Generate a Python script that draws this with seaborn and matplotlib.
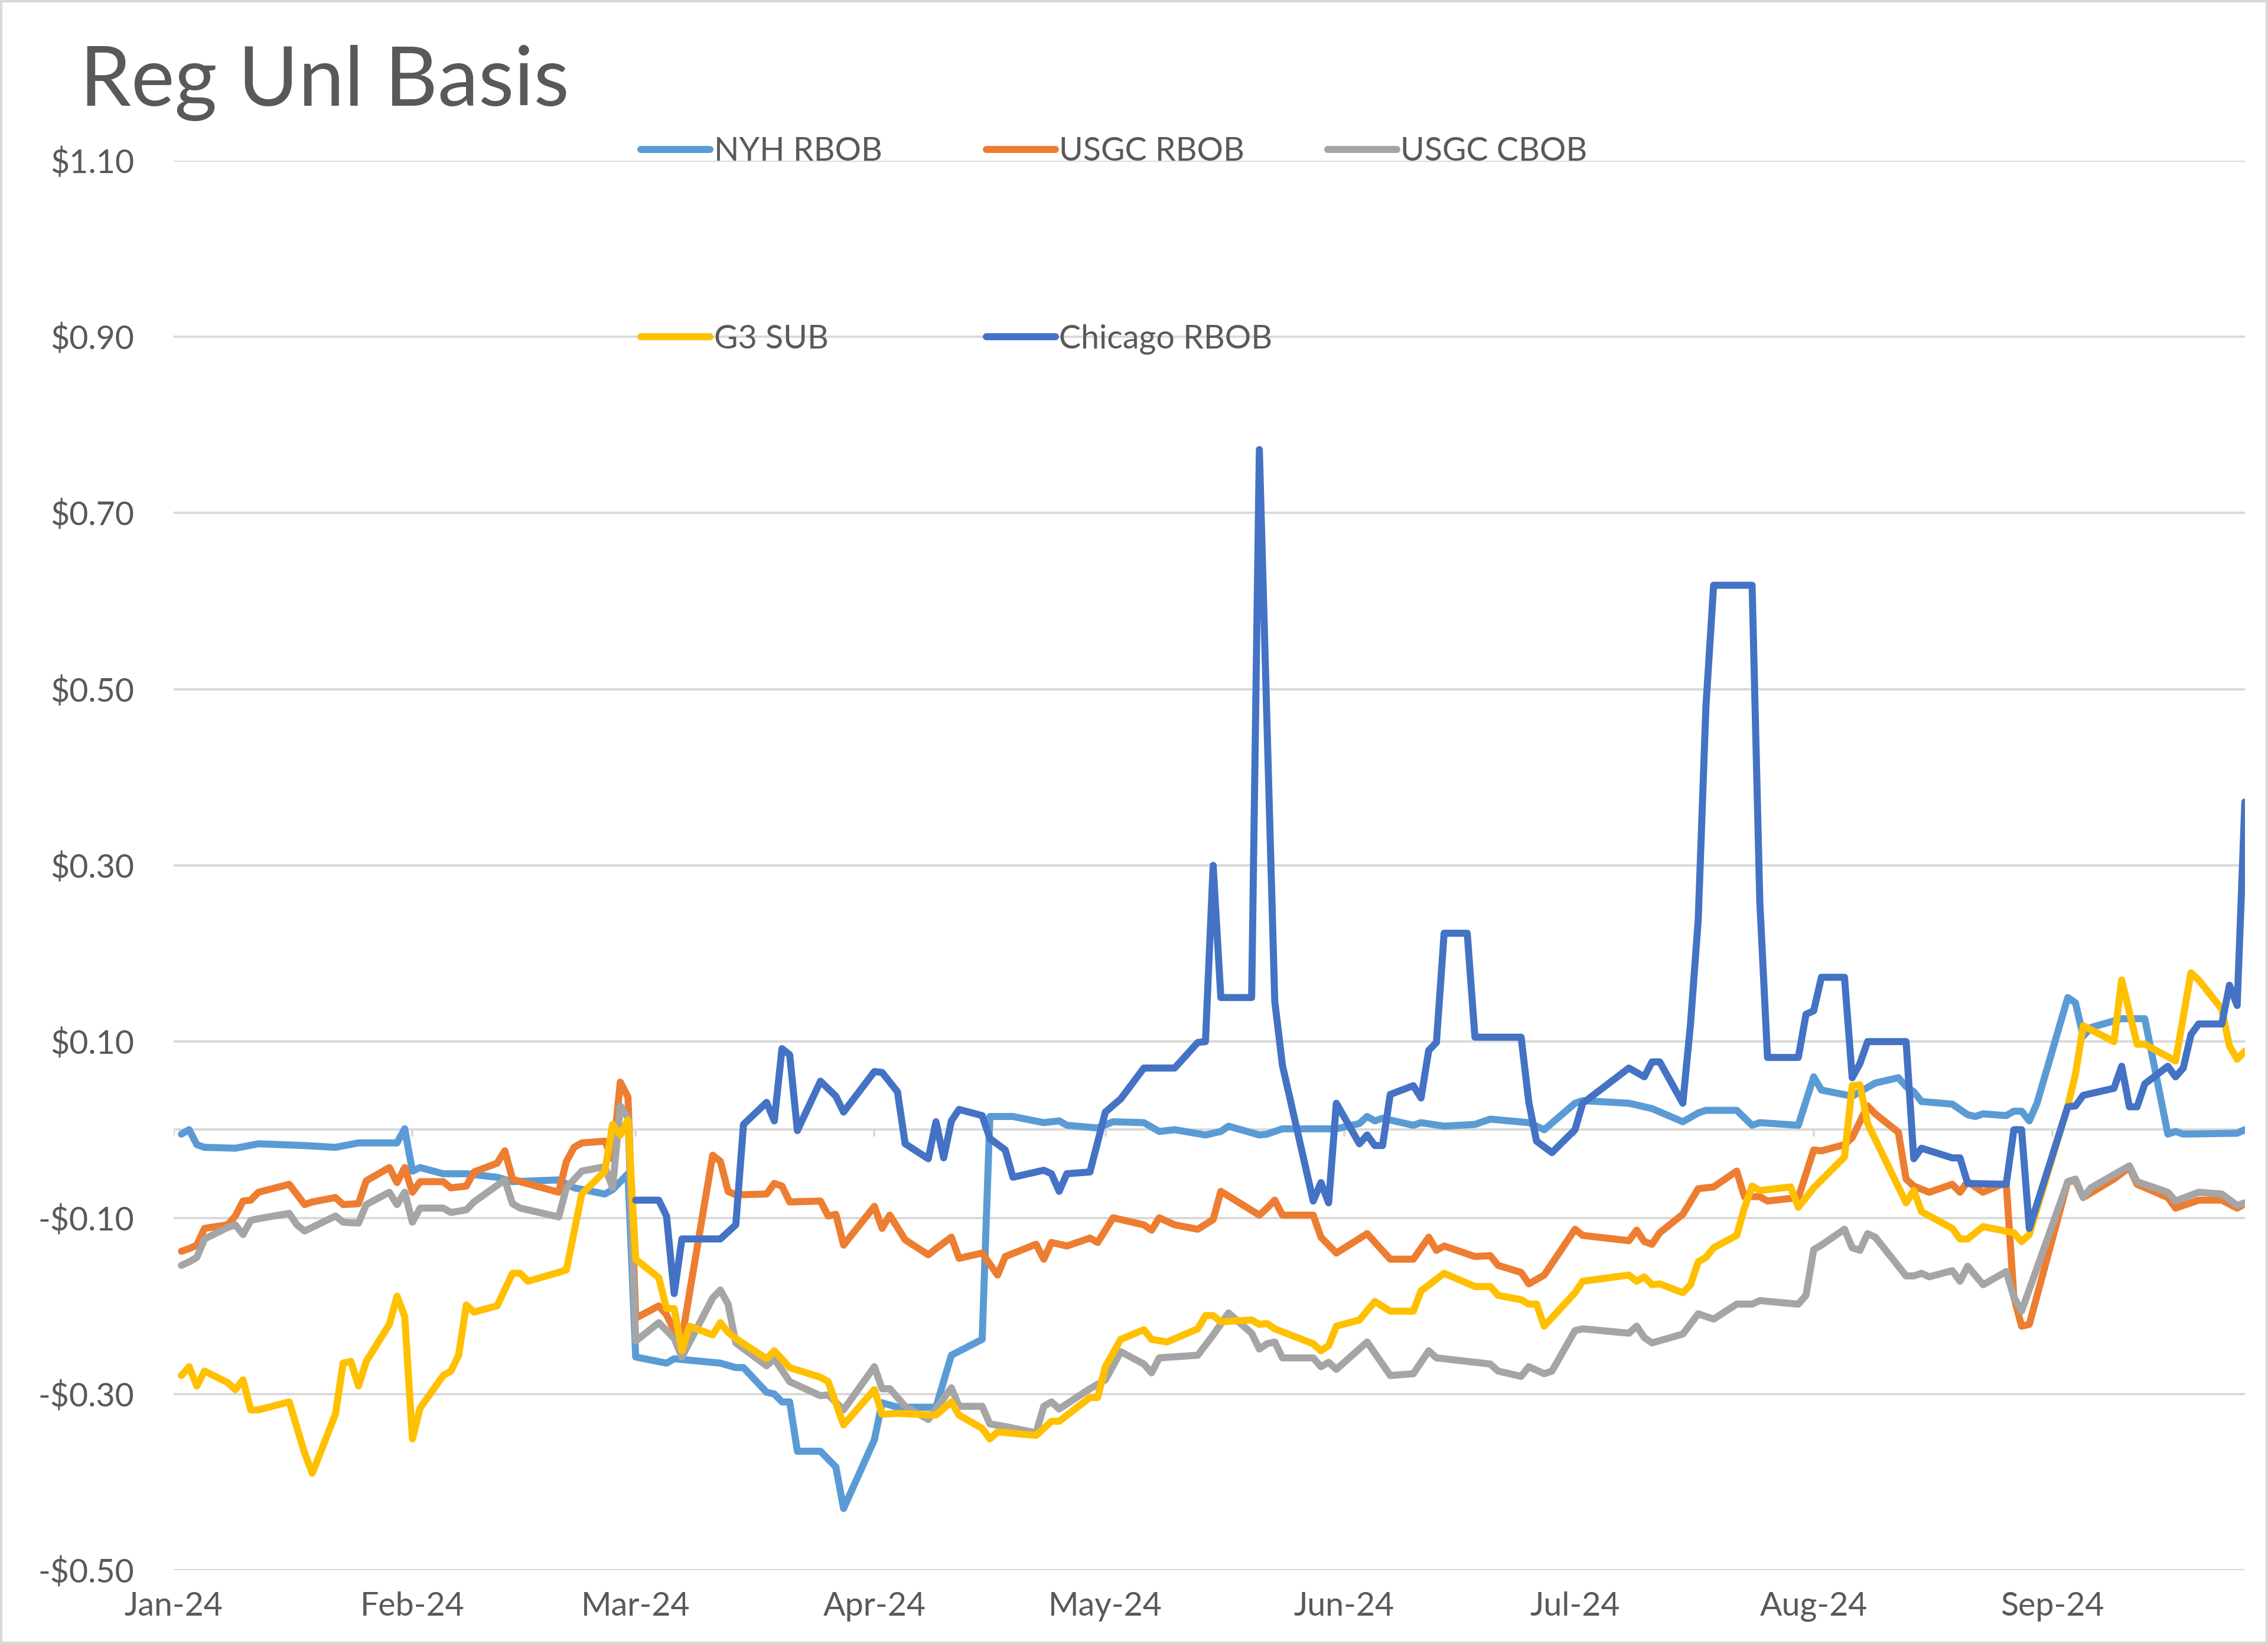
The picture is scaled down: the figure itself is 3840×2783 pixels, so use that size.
import pandas as pd
import seaborn as sns
import matplotlib.pyplot as plt
import matplotlib.dates as mdates
from matplotlib.lines import Line2D
from matplotlib.patches import Rectangle
from matplotlib.ticker import FuncFormatter

# series names / colours (Excel office palette)
series_names = ["NYH RBOB", "USGC RBOB", "USGC CBOB", "G3 SUB", "Chicago RBOB"]
series_colors = ["#5B9BD5", "#ED7D31", "#A5A5A5", "#FFC000", "#4472C4"]

# values, (MM-DD, $/gal)
nyh_rbob = [
    ("01-02", -0.005), ("01-03", 0.000), ("01-04", -0.017), ("01-05", -0.020), ("01-09", -0.021),
    ("01-12", -0.016), ("01-18", -0.018), ("01-22", -0.020), ("01-25", -0.015), ("01-30", -0.015),
    ("01-31", 0.001), ("02-01", -0.047), ("02-02", -0.043), ("02-05", -0.050), ("02-08", -0.050),
    ("02-12", -0.054), ("02-14", -0.059), ("02-20", -0.057), ("02-22", -0.066), ("02-26", -0.073),
    ("02-27", -0.068), ("02-29", -0.050), ("03-01", -0.258), ("03-05", -0.265), ("03-06", -0.260),
    ("03-12", -0.265), ("03-14", -0.270), ("03-15", -0.270), ("03-18", -0.298), ("03-19", -0.300),
    ("03-20", -0.309), ("03-21", -0.309), ("03-22", -0.365), ("03-25", -0.365), ("03-27", -0.383),
    ("03-28", -0.430), ("04-01", -0.352), ("04-02", -0.310), ("04-04", -0.315), ("04-09", -0.315),
    ("04-11", -0.256), ("04-15", -0.238), ("04-16", 0.015), ("04-19", 0.015), ("04-23", 0.008),
    ("04-25", 0.010), ("04-26", 0.005), ("04-30", 0.002), ("05-02", 0.009), ("05-06", 0.008),
    ("05-08", -0.002), ("05-10", 0.000), ("05-14", -0.006), ("05-16", -0.002), ("05-17", 0.004),
    ("05-21", -0.006), ("05-22", -0.005), ("05-24", 0.001), ("05-31", 0.001), ("06-03", 0.007),
    ("06-04", 0.015), ("06-05", 0.010), ("06-06", 0.013), ("06-10", 0.005), ("06-11", 0.008),
    ("06-14", 0.004), ("06-18", 0.006), ("06-20", 0.012), ("06-25", 0.008), ("06-27", 0.000),
    ("07-01", 0.030), ("07-02", 0.033), ("07-08", 0.030), ("07-11", 0.024), ("07-15", 0.009),
    ("07-17", 0.019), ("07-18", 0.022), ("07-22", 0.022), ("07-24", 0.005), ("07-25", 0.008),
    ("07-30", 0.005), ("08-01", 0.060), ("08-02", 0.045), ("08-06", 0.038), ("08-07", 0.043),
    ("08-09", 0.053), ("08-12", 0.059), ("08-13", 0.049), ("08-14", 0.043), ("08-15", 0.032),
    ("08-19", 0.029), ("08-21", 0.017), ("08-22", 0.015), ("08-23", 0.018), ("08-26", 0.016),
    ("08-27", 0.021), ("08-28", 0.021), ("08-29", 0.010), ("08-30", 0.030), ("09-03", 0.150),
    ("09-04", 0.144), ("09-05", 0.106), ("09-06", 0.116), ("09-10", 0.126), ("09-13", 0.126),
    ("09-16", -0.005), ("09-17", -0.002), ("09-18", -0.005), ("09-25", -0.004), ("09-26", 0.000),
]

usgc_rbob = [
    ("01-02", -0.138), ("01-03", -0.135), ("01-04", -0.131), ("01-05", -0.112), ("01-08", -0.108),
    ("01-09", -0.098), ("01-10", -0.081), ("01-11", -0.080), ("01-12", -0.071), ("01-16", -0.062),
    ("01-18", -0.085), ("01-19", -0.082), ("01-22", -0.077), ("01-23", -0.085), ("01-25", -0.084),
    ("01-26", -0.058), ("01-29", -0.043), ("01-30", -0.060), ("01-31", -0.043), ("02-01", -0.071),
    ("02-02", -0.059), ("02-05", -0.059), ("02-06", -0.066), ("02-08", -0.064), ("02-09", -0.048),
    ("02-12", -0.038), ("02-13", -0.024), ("02-14", -0.056), ("02-15", -0.059), ("02-20", -0.071),
    ("02-21", -0.036), ("02-22", -0.020), ("02-23", -0.015), ("02-26", -0.013), ("02-27", -0.033),
    ("02-28", 0.054), ("02-29", 0.037), ("03-01", -0.214), ("03-04", -0.200), ("03-05", -0.210),
    ("03-06", -0.228), ("03-07", -0.237), ("03-11", -0.029), ("03-12", -0.036), ("03-13", -0.070),
    ("03-14", -0.074), ("03-18", -0.073), ("03-19", -0.061), ("03-20", -0.064), ("03-21", -0.082),
    ("03-25", -0.081), ("03-26", -0.098), ("03-27", -0.096), ("03-28", -0.131), ("04-01", -0.087),
    ("04-02", -0.112), ("04-03", -0.097), ("04-05", -0.125), ("04-08", -0.142), ("04-09", -0.135),
    ("04-11", -0.122), ("04-12", -0.146), ("04-15", -0.140), ("04-17", -0.165), ("04-18", -0.144),
    ("04-22", -0.130), ("04-23", -0.147), ("04-24", -0.128), ("04-26", -0.132), ("04-29", -0.123),
    ("04-30", -0.128), ("05-02", -0.100), ("05-06", -0.108), ("05-07", -0.114), ("05-08", -0.100),
    ("05-10", -0.108), ("05-13", -0.113), ("05-15", -0.102), ("05-16", -0.070), ("05-21", -0.097),
    ("05-22", -0.089), ("05-23", -0.080), ("05-24", -0.097), ("05-28", -0.097), ("05-29", -0.122),
    ("05-31", -0.140), ("06-04", -0.118), ("06-07", -0.147), ("06-10", -0.147), ("06-12", -0.122),
    ("06-13", -0.137), ("06-14", -0.132), ("06-18", -0.144), ("06-20", -0.143), ("06-21", -0.154),
    ("06-24", -0.162), ("06-25", -0.175), ("06-27", -0.165), ("07-01", -0.113), ("07-02", -0.120),
    ("07-08", -0.126), ("07-09", -0.114), ("07-10", -0.127), ("07-11", -0.130), ("07-12", -0.117),
    ("07-15", -0.096), ("07-17", -0.067), ("07-19", -0.065), ("07-22", -0.047), ("07-23", -0.076),
    ("07-25", -0.076), ("07-26", -0.081), ("07-30", -0.077), ("08-01", -0.023), ("08-02", -0.024),
    ("08-05", -0.017), ("08-06", -0.009), ("08-08", 0.027), ("08-09", 0.018), ("08-12", -0.003),
    ("08-13", -0.056), ("08-14", -0.064), ("08-16", -0.071), ("08-19", -0.062), ("08-20", -0.071),
    ("08-21", -0.059), ("08-23", -0.071), ("08-26", -0.060), ("08-27", -0.190), ("08-28", -0.223),
    ("08-29", -0.221), ("09-03", -0.059), ("09-04", -0.058), ("09-05", -0.077), ("09-09", -0.056),
    ("09-11", -0.043), ("09-12", -0.062), ("09-16", -0.077), ("09-17", -0.089), ("09-20", -0.080),
    ("09-23", -0.080), ("09-25", -0.089), ("09-26", -0.084),
]

usgc_cbob = [
    ("01-02", -0.154), ("01-03", -0.150), ("01-04", -0.145), ("01-05", -0.124), ("01-08", -0.111),
    ("01-09", -0.108), ("01-10", -0.119), ("01-11", -0.103), ("01-12", -0.101), ("01-16", -0.095),
    ("01-17", -0.108), ("01-18", -0.115), ("01-22", -0.098), ("01-23", -0.105), ("01-25", -0.106),
    ("01-26", -0.085), ("01-29", -0.071), ("01-30", -0.085), ("01-31", -0.071), ("02-01", -0.105),
    ("02-02", -0.089), ("02-05", -0.089), ("02-06", -0.094), ("02-08", -0.091), ("02-09", -0.082),
    ("02-13", -0.057), ("02-14", -0.084), ("02-15", -0.089), ("02-20", -0.099), ("02-21", -0.066),
    ("02-23", -0.047), ("02-26", -0.042), ("02-27", -0.066), ("02-28", 0.027), ("02-29", 0.013),
    ("03-01", -0.240), ("03-04", -0.219), ("03-06", -0.237), ("03-07", -0.258), ("03-11", -0.191),
    ("03-12", -0.182), ("03-13", -0.198), ("03-14", -0.242), ("03-18", -0.268), ("03-19", -0.260),
    ("03-21", -0.286), ("03-25", -0.302), ("03-26", -0.301), ("03-28", -0.318), ("04-01", -0.269),
    ("04-02", -0.294), ("04-03", -0.294), ("04-05", -0.314), ("04-08", -0.329), ("04-11", -0.293),
    ("04-12", -0.314), ("04-15", -0.314), ("04-16", -0.334), ("04-18", -0.337), ("04-22", -0.344),
    ("04-23", -0.314), ("04-24", -0.309), ("04-25", -0.317), ("04-29", -0.294), ("05-01", -0.284),
    ("05-03", -0.252), ("05-06", -0.266), ("05-07", -0.276), ("05-08", -0.259), ("05-13", -0.256),
    ("05-15", -0.233), ("05-17", -0.208), ("05-20", -0.231), ("05-21", -0.249), ("05-22", -0.243),
    ("05-23", -0.241), ("05-24", -0.259), ("05-28", -0.259), ("05-29", -0.269), ("05-30", -0.264),
    ("05-31", -0.272), ("06-04", -0.241), ("06-07", -0.279), ("06-10", -0.277), ("06-12", -0.251),
    ("06-13", -0.259), ("06-18", -0.264), ("06-20", -0.266), ("06-21", -0.274), ("06-24", -0.280),
    ("06-25", -0.269), ("06-27", -0.277), ("06-28", -0.274), ("07-01", -0.228), ("07-02", -0.226),
    ("07-08", -0.231), ("07-09", -0.223), ("07-10", -0.236), ("07-11", -0.242), ("07-15", -0.232),
    ("07-17", -0.209), ("07-19", -0.215), ("07-22", -0.198), ("07-24", -0.198), ("07-25", -0.194),
    ("07-30", -0.198), ("07-31", -0.188), ("08-01", -0.136), ("08-02", -0.131), ("08-05", -0.113),
    ("08-06", -0.134), ("08-07", -0.137), ("08-08", -0.118), ("08-09", -0.122), ("08-13", -0.166),
    ("08-14", -0.166), ("08-15", -0.163), ("08-16", -0.167), ("08-19", -0.160), ("08-20", -0.172),
    ("08-21", -0.155), ("08-23", -0.176), ("08-26", -0.161), ("08-27", -0.190), ("08-28", -0.206),
    ("09-03", -0.059), ("09-04", -0.056), ("09-05", -0.077), ("09-06", -0.066), ("09-11", -0.041),
    ("09-12", -0.059), ("09-16", -0.071), ("09-17", -0.081), ("09-20", -0.071), ("09-23", -0.073),
    ("09-25", -0.086), ("09-26", -0.083),
]

g3_sub = [
    ("01-02", -0.279), ("01-03", -0.269), ("01-04", -0.291), ("01-05", -0.274), ("01-08", -0.287),
    ("01-09", -0.295), ("01-10", -0.284), ("01-11", -0.318), ("01-12", -0.318), ("01-16", -0.309),
    ("01-18", -0.367), ("01-19", -0.390), ("01-22", -0.323), ("01-23", -0.265), ("01-24", -0.263),
    ("01-25", -0.291), ("01-26", -0.263), ("01-29", -0.221), ("01-30", -0.189), ("01-31", -0.212),
    ("02-01", -0.351), ("02-02", -0.316), ("02-05", -0.279), ("02-06", -0.274), ("02-07", -0.256),
    ("02-08", -0.199), ("02-09", -0.207), ("02-12", -0.200), ("02-14", -0.163), ("02-15", -0.163),
    ("02-16", -0.172), ("02-20", -0.162), ("02-21", -0.159), ("02-23", -0.073), ("02-26", -0.047),
    ("02-27", 0.006), ("02-28", -0.006), ("02-29", 0.011), ("03-01", -0.147), ("03-04", -0.168),
    ("03-05", -0.203), ("03-06", -0.203), ("03-07", -0.251), ("03-08", -0.223), ("03-11", -0.233),
    ("03-12", -0.219), ("03-13", -0.230), ("03-14", -0.237), ("03-18", -0.260), ("03-19", -0.251),
    ("03-21", -0.270), ("03-25", -0.281), ("03-26", -0.286), ("03-28", -0.335), ("04-01", -0.295),
    ("04-02", -0.323), ("04-04", -0.322), ("04-09", -0.324), ("04-11", -0.309), ("04-12", -0.324),
    ("04-15", -0.339), ("04-16", -0.351), ("04-17", -0.343), ("04-22", -0.347), ("04-24", -0.331),
    ("04-25", -0.331), ("04-29", -0.304), ("04-30", -0.304), ("05-01", -0.269), ("05-03", -0.238),
    ("05-06", -0.227), ("05-07", -0.238), ("05-09", -0.241), ("05-13", -0.226), ("05-14", -0.211),
    ("05-15", -0.211), ("05-16", -0.218), ("05-20", -0.216), ("05-21", -0.221), ("05-22", -0.220),
    ("05-23", -0.226), ("05-28", -0.243), ("05-29", -0.251), ("05-30", -0.245), ("05-31", -0.223),
    ("06-03", -0.216), ("06-05", -0.195), ("06-07", -0.206), ("06-10", -0.206), ("06-11", -0.183),
    ("06-14", -0.163), ("06-18", -0.178), ("06-20", -0.178), ("06-21", -0.188), ("06-24", -0.193),
    ("06-25", -0.198), ("06-26", -0.198), ("06-27", -0.223), ("07-01", -0.185), ("07-02", -0.172),
    ("07-08", -0.165), ("07-09", -0.172), ("07-10", -0.167), ("07-11", -0.176), ("07-12", -0.175),
    ("07-15", -0.185), ("07-16", -0.176), ("07-17", -0.150), ("07-18", -0.145), ("07-19", -0.134),
    ("07-22", -0.120), ("07-23", -0.089), ("07-24", -0.064), ("07-25", -0.069), ("07-29", -0.065),
    ("07-30", -0.088), ("08-01", -0.066), ("08-05", -0.031), ("08-06", 0.050), ("08-07", 0.051),
    ("08-08", 0.007), ("08-13", -0.083), ("08-14", -0.069), ("08-15", -0.093), ("08-19", -0.112),
    ("08-20", -0.124), ("08-21", -0.124), ("08-23", -0.110), ("08-27", -0.117), ("08-28", -0.127),
    ("08-29", -0.119), ("09-03", 0.027), ("09-04", 0.063), ("09-05", 0.118), ("09-09", 0.100),
    ("09-10", 0.170), ("09-12", 0.097), ("09-13", 0.097), ("09-17", 0.078), ("09-19", 0.178),
    ("09-20", 0.170), ("09-23", 0.137), ("09-24", 0.095), ("09-25", 0.080), ("09-26", 0.089),
]

chicago_rbob = [
    ("03-01", -0.080), ("03-04", -0.080), ("03-05", -0.098), ("03-06", -0.186), ("03-07", -0.124),
    ("03-12", -0.124), ("03-14", -0.108), ("03-15", 0.006), ("03-18", 0.031), ("03-19", 0.010),
    ("03-20", 0.092), ("03-21", 0.085), ("03-22", -0.001), ("03-25", 0.055), ("03-27", 0.038),
    ("03-28", 0.020), ("04-01", 0.066), ("04-02", 0.065), ("04-04", 0.043), ("04-05", -0.016),
    ("04-08", -0.033), ("04-09", 0.009), ("04-10", -0.032), ("04-11", 0.010), ("04-12", 0.023),
    ("04-15", 0.016), ("04-16", -0.010), ("04-18", -0.023), ("04-19", -0.054), ("04-23", -0.046),
    ("04-24", -0.050), ("04-25", -0.070), ("04-26", -0.050), ("04-29", -0.048), ("05-01", 0.020),
    ("05-03", 0.035), ("05-06", 0.070), ("05-10", 0.070), ("05-13", 0.099), ("05-14", 0.100),
    ("05-15", 0.300), ("05-16", 0.150), ("05-20", 0.150), ("05-21", 0.772), ("05-23", 0.146),
    ("05-24", 0.073), ("05-28", -0.081), ("05-29", -0.060), ("05-30", -0.083), ("05-31", 0.030),
    ("06-03", -0.016), ("06-04", -0.006), ("06-05", -0.018), ("06-06", -0.018), ("06-07", 0.040),
    ("06-10", 0.050), ("06-11", 0.036), ("06-12", 0.090), ("06-13", 0.099), ("06-14", 0.223),
    ("06-17", 0.223), ("06-18", 0.105), ("06-24", 0.105), ("06-25", 0.031), ("06-26", -0.013),
    ("06-28", -0.026), ("07-01", 0.000), ("07-02", 0.030), ("07-08", 0.070), ("07-10", 0.060),
    ("07-11", 0.077), ("07-12", 0.077), ("07-15", 0.030), ("07-16", 0.120), ("07-17", 0.238),
    ("07-18", 0.480), ("07-19", 0.618), ("07-24", 0.618), ("07-25", 0.259), ("07-26", 0.082),
    ("07-30", 0.082), ("07-31", 0.131), ("08-01", 0.135), ("08-02", 0.173), ("08-05", 0.173),
    ("08-06", 0.059), ("08-07", 0.075), ("08-08", 0.100), ("08-13", 0.100), ("08-14", -0.033),
    ("08-15", -0.021), ("08-19", -0.032), ("08-20", -0.032), ("08-21", -0.061), ("08-26", -0.062),
    ("08-27", 0.000), ("08-28", 0.000), ("08-29", -0.112), ("09-03", 0.026), ("09-04", 0.027),
    ("09-05", 0.039), ("09-09", 0.047), ("09-10", 0.072), ("09-11", 0.026), ("09-12", 0.026),
    ("09-13", 0.052), ("09-16", 0.072), ("09-17", 0.060), ("09-18", 0.070), ("09-19", 0.108),
    ("09-20", 0.120), ("09-23", 0.120), ("09-24", 0.164), ("09-25", 0.141), ("09-26", 0.372),
]

y_ticks = [-0.5, -0.3, -0.1, 0.1, 0.3, 0.5, 0.7, 0.9, 1.1]
month_ticks = pd.date_range("2024-01-01", "2024-09-01", freq="MS")

# long-form table for seaborn
frames = []
for name, pts in zip(series_names, [nyh_rbob, usgc_rbob, usgc_cbob, g3_sub, chicago_rbob]):
    d = pd.DataFrame(pts, columns=["day", "basis"])
    d["date"] = pd.to_datetime("2024-" + d["day"])
    d["series"] = name
    frames.append(d)
df = pd.concat(frames, ignore_index=True)

sns.set_theme(style="white")
plt.rcParams["font.family"] = ["Lato", "DejaVu Sans"]

text_col = "#595959"
grid_col = "#D9D9D9"
lw = 4.3

fig = plt.figure(figsize=(19.2, 13.915), dpi=200)
ax = fig.add_axes([0.0766, 0.0449, 0.9132, 0.8574])

# horizontal axis line crosses at zero, with small month ticks
ax.axhline(0, color=grid_col, lw=1.4, zorder=0.5)
ax.vlines(month_ticks, -0.008, 0, color=grid_col, lw=1.4, zorder=0.5)

sns.lineplot(data=df, x="date", y="basis", hue="series", hue_order=series_names,
             palette=series_colors, estimator=None, linewidth=lw, legend=False,
             solid_joinstyle="round", solid_capstyle="round", ax=ax)

ax.set_ylim(-0.5, 1.1)
ax.set_yticks(y_ticks)
ax.yaxis.set_major_formatter(FuncFormatter(
    lambda v, p: f"-${abs(v):.2f}" if v < -1e-9 else f"${v:.2f}"))
ax.set_xlim(pd.Timestamp("2024-01-01"), pd.Timestamp("2024-09-26"))
ax.set_xticks(month_ticks)
ax.xaxis.set_major_formatter(mdates.DateFormatter("%b-%y"))
ax.grid(axis="y", color=grid_col, lw=1.4)
ax.grid(axis="x", visible=False)
ax.set_axisbelow(True)
for s in ax.spines.values():
    s.set_visible(False)
ax.set_xlabel("")
ax.set_ylabel("")
ax.tick_params(axis="y", length=0, labelsize=20, labelcolor=text_col, pad=24)
ax.tick_params(axis="x", length=0, labelsize=20, labelcolor=text_col, pad=13)

fig.text(0.0352, 0.9495, "Reg Unl Basis", fontsize=50, color=text_col,
         ha="left", va="center")

# legend laid out like Excel: fixed-width columns, two rows
handles = {n: Line2D([], [], color=c, lw=lw, solid_capstyle="round")
           for n, c in zip(series_names, series_colors)}
legend_cols = [["NYH RBOB", "G3 SUB"], ["USGC RBOB", "Chicago RBOB"], ["USGC CBOB"]]
legend_x = [0.2826, 0.4349, 0.5854]
for names, x in zip(legend_cols, legend_x):
    fig.legend([handles[n] for n in names], names, loc="upper left",
               bbox_to_anchor=(x, 0.917), frameon=False, borderpad=0,
               borderaxespad=0, handlelength=2.1, handletextpad=0.12,
               labelspacing=4.8, fontsize=20, labelcolor=text_col)

fig.add_artist(Rectangle((0, 0), 1, 1, transform=fig.transFigure, fill=False,
                         edgecolor=grid_col, lw=3))

fig.savefig("out.png", dpi=200)
